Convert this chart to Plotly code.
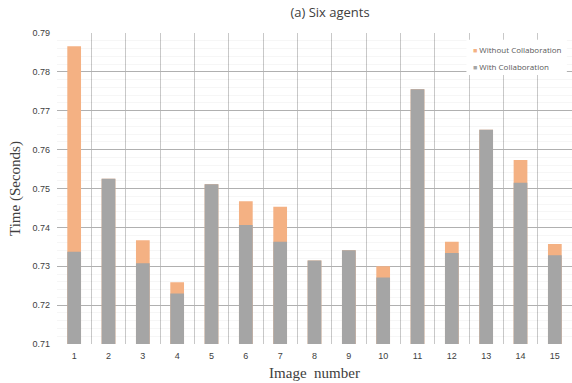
import plotly.graph_objects as go

images = list(range(1, 16))
with_collab = [0.7337, 0.7525, 0.7308, 0.7230, 0.7511, 0.7406, 0.7363, 0.7315,
               0.7341, 0.7271, 0.7755, 0.7334, 0.7651, 0.7515, 0.7328]
without_collab = [0.7866, 0.7525, 0.7367, 0.7259, 0.7511, 0.7467, 0.7453, 0.7315,
                  0.7341, 0.7300, 0.7755, 0.7363, 0.7651, 0.7573, 0.7357]
y_ticks = [0.71, 0.72, 0.73, 0.74, 0.75, 0.76, 0.77, 0.78, 0.79]
series_names = ["Without Collaboration", "With Collaboration"]
series_colors = ["#F4B183", "#A5A5A5"]

fig = go.Figure()
fig.add_trace(go.Bar(x=images, y=without_collab, name=series_names[0], showlegend=False,
                     marker=dict(color=series_colors[0], line=dict(width=0)), width=0.4))
fig.add_trace(go.Bar(x=images, y=with_collab, name=series_names[1], showlegend=False,
                     marker=dict(color=series_colors[1], line=dict(width=0)), width=0.4))

# legend box (white background covering gridlines) and entries
fig.add_shape(type="rect", xref="paper", yref="paper", x0=0.795, x1=0.99, y0=0.865, y1=0.978,
              fillcolor="white", line=dict(width=0), layer="above")
for i, (name, col) in enumerate(zip(series_names, series_colors)):
    fig.add_annotation(xref="paper", yref="paper", x=0.803, y=0.948 - i * 0.056,
                       xanchor="left", yanchor="middle", showarrow=False,
                       text=f"<span style='color:{col};font-size:7px'>■</span> {name}",
                       font=dict(family="Open Sans", size=8, color="#595959"))

fig.update_layout(
    width=572, height=383,
    margin=dict(l=57, r=0, t=33, b=39),
    barmode="overlay",
    plot_bgcolor="white", paper_bgcolor="white",
    title=dict(text="(a) Six agents", x=0.577, xanchor="center", y=0.968, yanchor="middle",
               font=dict(family="Open Sans", size=13, color="#404040")),
    xaxis=dict(range=[0.5, 15.5], tickmode="array", tickvals=images,
               ticktext=[str(i) for i in images], showgrid=False, zeroline=False,
               showline=False, ticks="", ticklabelstandoff=5,
               tickfont=dict(family="Liberation Sans", size=9, color="#404040"),
               title=dict(text="Image  number", standoff=7,
                          font=dict(family="Liberation Serif", size=15, color="#404040")),
               minor=dict(tick0=0.5, dtick=1, showgrid=True, gridcolor="#c8c8c8", gridwidth=1.3)),
    yaxis=dict(range=[0.71, 0.79], tickmode="array", tickvals=y_ticks,
               ticktext=[f"{v:.2f}" for v in y_ticks], showgrid=True, gridcolor="#b0b0b0",
               gridwidth=1.3, zeroline=False, showline=False, ticks="", ticklabelstandoff=6,
               tickfont=dict(family="Liberation Sans", size=9, color="#404040"),
               title=dict(text="Time (Seconds)", standoff=8,
                          font=dict(family="Liberation Serif", size=15, color="#404040")),
               minor=dict(dtick=0.002, tick0=0.71, showgrid=True,
                          gridcolor="rgba(0,0,0,0.035)", gridwidth=1)),
)
fig.write_html("out.html")
